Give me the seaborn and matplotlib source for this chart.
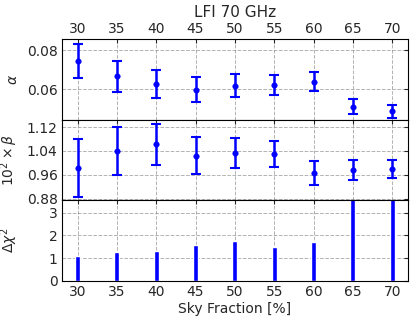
import numpy as np
import pandas as pd
import matplotlib
matplotlib.use("Agg")
import matplotlib.pyplot as plt
import seaborn as sns

# sky fractions
fsky = [30, 35, 40, 45, 50, 55, 60, 65, 70]

# alpha with errors
alpha = [0.0745, 0.0667, 0.0627, 0.0599, 0.0620, 0.0622, 0.0640, 0.0512, 0.0487]
alpha_err = [0.0089, 0.0081, 0.0071, 0.0064, 0.0057, 0.0052, 0.0047, 0.0040, 0.0035]

# 10^2 x beta with errors
beta = [0.982, 1.039, 1.062, 1.024, 1.033, 1.030, 0.966, 0.975, 0.980]
beta_err = [0.097, 0.081, 0.070, 0.063, 0.052, 0.045, 0.040, 0.034, 0.030]

# delta chi^2
dchi2 = [1.09, 1.27, 1.31, 1.57, 1.75, 1.48, 1.73, 4.8, 5.5]

df = pd.DataFrame({"fsky": fsky, "alpha": alpha, "alpha_err": alpha_err,
                   "beta": beta, "beta_err": beta_err, "dchi2": dchi2})

sns.set_style("white")
plt.rcParams['font.family'] = ['DejaVu Sans']

fig, axes = plt.subplots(3, 1, figsize=(4.15, 3.2), dpi=100, sharex=True)
plt.subplots_adjust(left=0.149, right=0.983, top=0.878, bottom=0.122, hspace=0)

ax1, ax2, ax3 = axes

#Top panel: alpha
ax1.errorbar(df["fsky"], df["alpha"], yerr=df["alpha_err"], fmt="none",
             ecolor="blue", elinewidth=1.8, capsize=3.5, capthick=1.5)
sns.scatterplot(data=df, x="fsky", y="alpha", ax=ax1, color="blue", s=16,
                edgecolor="blue", zorder=3)
ax1.set_ylim(0.0445, 0.0858)
ax1.set_yticks([0.06, 0.08])
ax1.set_ylabel(r"$\alpha$", fontsize=10)

#Middle panel: beta
ax2.errorbar(df["fsky"], df["beta"], yerr=df["beta_err"], fmt="none",
             ecolor="blue", elinewidth=1.8, capsize=3.5, capthick=1.5)
sns.scatterplot(data=df, x="fsky", y="beta", ax=ax2, color="blue", s=16,
                edgecolor="blue", zorder=3)
ax2.set_ylim(0.874, 1.145)
ax2.set_yticks([0.88, 0.96, 1.04, 1.12])
ax2.set_ylabel(r"$10^2\times\beta$", fontsize=10)

#Bottom panel: delta chi2
sns.barplot(data=df, x="fsky", y="dchi2", ax=ax3, color="blue",
            native_scale=True, width=0.13, saturation=1)
ax3.set_ylim(0, 3.54)
ax3.set_yticks([0, 1, 2, 3])
ax3.set_ylabel(r"$\Delta\chi^2$", fontsize=10)
ax3.set_xlabel("Sky Fraction [%]", fontsize=10, labelpad=2)

for ax in axes:
    ax.set_xlim(28, 72)
    ax.set_xticks(fsky)
    ax.grid(True, linestyle="--", color="gray", alpha=0.6, linewidth=0.7)
    ax.set_axisbelow(True)
    ax.tick_params(direction="in", labelsize=10, top=True, right=True, length=3, pad=3)
    for s in ax.spines.values():
        s.set_color("black")
        s.set_linewidth(0.8)
    ax.yaxis.set_label_coords(-0.12, 0.5)

ax1.tick_params(axis="x", labeltop=True, labelbottom=False, pad=2.5)
ax2.tick_params(labelbottom=False)
ax3.tick_params(labelbottom=True)
ax3.set_xticklabels([str(v) for v in fsky])
ax1.set_title("LFI 70 GHz", fontsize=11, pad=16)
ax1.set_xlabel("")
ax2.set_xlabel("")

plt.savefig("out.png", dpi=100)
